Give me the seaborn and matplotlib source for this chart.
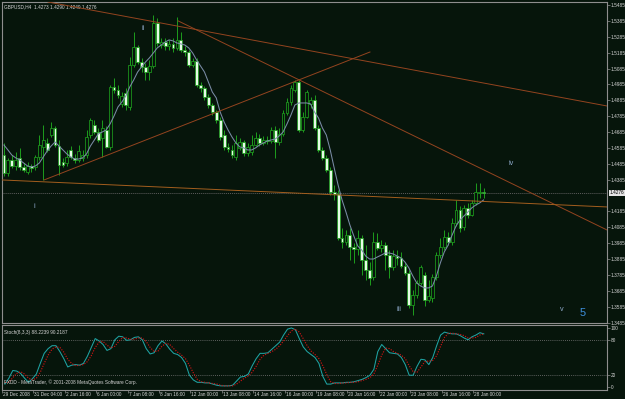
import numpy as np
import pandas as pd
import matplotlib
matplotlib.use("Agg")
import matplotlib.pyplot as plt
import matplotlib.transforms as mtransforms
import seaborn as sns

plt.rcParams["font.family"] = ["Liberation Sans", "DejaVu Sans"]

# ---------------- data ----------------
symbol_title = "GBPUSD,H4  1.4273 1.4290 1.4249 1.4276"
stoch_title = "Stoch(8,3,3) 88.2239 90.2187"
copyright_text = "FXDD - MetaTrader, \u00a9 2001-2008 MetaQuotes Software Corp."
bid_text = "1.4276"

opens = [
    1.4540, 1.4427, 1.4509, 1.4471, 1.4522, 1.4465, 1.4433, 1.4471, 1.4465, 1.4528,
    1.4591, 1.4616, 1.4666, 1.4711, 1.4597, 1.4496, 1.4490, 1.4572, 1.4522, 1.4509,
    1.4522, 1.4540, 1.4666, 1.4729, 1.4685, 1.4648, 1.4698, 1.4591, 1.4969, 1.4950,
    1.4862, 1.4931, 1.4843, 1.5107, 1.5221, 1.5126, 1.5095, 1.5063, 1.5101, 1.5372,
    1.5233, 1.5252, 1.5227, 1.5240, 1.5215, 1.5265, 1.5202, 1.5189, 1.5107, 1.5133,
    1.4981, 1.4963, 1.4906, 1.4855, 1.4811, 1.4761, 1.4666, 1.4591, 1.4572, 1.4528,
    1.4585, 1.4622, 1.4553, 1.4559, 1.4603, 1.4648, 1.4616, 1.4635, 1.4629, 1.4698,
    1.4622, 1.4673, 1.4805, 1.4874, 1.4950, 1.5000, 1.4698, 1.4780, 1.4862, 1.4887,
    1.4711, 1.4572, 1.4522, 1.4446, 1.4307, 1.4295, 1.4018, 1.3992, 1.4036, 1.3961,
    1.3948, 1.4018, 1.3879, 1.3816, 1.3772, 1.3992, 1.3955, 1.3973, 1.3910, 1.3835,
    1.3904, 1.3892, 1.3841, 1.3797, 1.3595, 1.3658, 1.3734, 1.3784, 1.3627, 1.3640,
    1.3772, 1.3910, 1.3961, 1.4024, 1.3992, 1.4112, 1.4194, 1.4087, 1.4207, 1.4162,
    1.4238, 1.4301, 1.4307]
highs = [
    1.4616, 1.4522, 1.4540, 1.4559, 1.4585, 1.4490, 1.4496, 1.4484, 1.4540, 1.4666,
    1.4729, 1.4648, 1.4748, 1.4723, 1.4635, 1.4522, 1.4572, 1.4597, 1.4547, 1.4603,
    1.4572, 1.4698, 1.4774, 1.4761, 1.4711, 1.4761, 1.4723, 1.4981, 1.5026, 1.4981,
    1.4937, 1.4963, 1.5158, 1.5315, 1.5233, 1.5152, 1.5120, 1.5139, 1.5422, 1.5404,
    1.5278, 1.5278, 1.5265, 1.5278, 1.5410, 1.5315, 1.5227, 1.5202, 1.5152, 1.5152,
    1.5000, 1.4975, 1.4925, 1.4868, 1.4824, 1.4780, 1.4698, 1.4616, 1.4603, 1.4666,
    1.4648, 1.4635, 1.4616, 1.4666, 1.4685, 1.4673, 1.4660, 1.4660, 1.4717, 1.4723,
    1.4711, 1.4824, 1.4900, 1.4981, 1.5013, 1.5013, 1.4811, 1.4950, 1.4906, 1.4918,
    1.4729, 1.4591, 1.4540, 1.4465, 1.4351, 1.4320, 1.4081, 1.4068, 1.4081, 1.3986,
    1.4068, 1.4036, 1.3973, 1.3866, 1.4055, 1.4049, 1.4005, 1.3992, 1.3942, 1.3942,
    1.3942, 1.3929, 1.3866, 1.3816, 1.3690, 1.3753, 1.3847, 1.3803, 1.3753, 1.3791,
    1.3929, 1.4018, 1.4068, 1.4055, 1.4144, 1.4257, 1.4219, 1.4225, 1.4238, 1.4257,
    1.4364, 1.4364, 1.4333]
lows = [
    1.4408, 1.4408, 1.4459, 1.4446, 1.4446, 1.4433, 1.4421, 1.4433, 1.4446, 1.4509,
    1.4383, 1.4559, 1.4654, 1.4591, 1.4414, 1.4465, 1.4471, 1.4515, 1.4490, 1.4496,
    1.4503, 1.4522, 1.4648, 1.4673, 1.4622, 1.4528, 1.4585, 1.4572, 1.4931, 1.4900,
    1.4843, 1.4824, 1.4824, 1.5095, 1.5114, 1.5063, 1.5013, 1.5013, 1.5089, 1.5227,
    1.5215, 1.5202, 1.5202, 1.5189, 1.5202, 1.5189, 1.5164, 1.5095, 1.5095, 1.4969,
    1.4937, 1.4887, 1.4837, 1.4792, 1.4742, 1.4635, 1.4572, 1.4559, 1.4522, 1.4509,
    1.4572, 1.4534, 1.4534, 1.4540, 1.4597, 1.4597, 1.4603, 1.4610, 1.4616, 1.4522,
    1.4603, 1.4660, 1.4792, 1.4855, 1.4937, 1.4685, 1.4685, 1.4774, 1.4837, 1.4698,
    1.4559, 1.4509, 1.4433, 1.4288, 1.4257, 1.4005, 1.3955, 1.3973, 1.3879, 1.3860,
    1.3910, 1.3784, 1.3753, 1.3721, 1.3753, 1.3942, 1.3929, 1.3816, 1.3766, 1.3816,
    1.3847, 1.3829, 1.3784, 1.3577, 1.3532, 1.3640, 1.3721, 1.3589, 1.3614, 1.3614,
    1.3753, 1.3892, 1.3942, 1.3973, 1.3973, 1.4093, 1.4055, 1.4068, 1.4144, 1.4156,
    1.4225, 1.4270, 1.4270]
closes = [
    1.4427, 1.4509, 1.4471, 1.4509, 1.4465, 1.4446, 1.4471, 1.4459, 1.4528, 1.4603,
    1.4635, 1.4572, 1.4711, 1.4603, 1.4477, 1.4477, 1.4528, 1.4528, 1.4509, 1.4566,
    1.4540, 1.4654, 1.4761, 1.4685, 1.4635, 1.4711, 1.4591, 1.4969, 1.4950, 1.4918,
    1.4912, 1.4855, 1.5107, 1.5221, 1.5126, 1.5095, 1.5063, 1.5101, 1.5372, 1.5246,
    1.5252, 1.5227, 1.5240, 1.5215, 1.5265, 1.5202, 1.5189, 1.5107, 1.5133, 1.4981,
    1.4963, 1.4906, 1.4855, 1.4811, 1.4761, 1.4654, 1.4591, 1.4578, 1.4540, 1.4616,
    1.4622, 1.4553, 1.4591, 1.4603, 1.4648, 1.4616, 1.4635, 1.4629, 1.4698, 1.4622,
    1.4673, 1.4805, 1.4874, 1.4963, 1.5000, 1.4698, 1.4780, 1.4937, 1.4887, 1.4711,
    1.4572, 1.4522, 1.4446, 1.4307, 1.4295, 1.4018, 1.3992, 1.4036, 1.3961, 1.3948,
    1.4018, 1.3879, 1.3816, 1.3766, 1.3992, 1.3955, 1.3973, 1.3910, 1.3835, 1.3904,
    1.3892, 1.3841, 1.3797, 1.3595, 1.3658, 1.3734, 1.3835, 1.3627, 1.3652, 1.3772,
    1.3910, 1.3961, 1.4024, 1.3992, 1.4112, 1.4194, 1.4081, 1.4207, 1.4162, 1.4238,
    1.4307, 1.4307, 1.4301]
ma_values = [
    1.4603, 1.4572, 1.4540, 1.4522, 1.4509, 1.4490, 1.4471, 1.4465, 1.4471, 1.4490,
    1.4528, 1.4566, 1.4597, 1.4622, 1.4597, 1.4572, 1.4547, 1.4528, 1.4515, 1.4515,
    1.4522, 1.4547, 1.4597, 1.4635, 1.4673, 1.4685, 1.4698, 1.4736, 1.4786, 1.4843,
    1.4874, 1.4912, 1.4969, 1.5013, 1.5063, 1.5095, 1.5126, 1.5152, 1.5183, 1.5215,
    1.5233, 1.5252, 1.5265, 1.5259, 1.5246, 1.5240, 1.5233, 1.5215, 1.5183, 1.5139,
    1.5101, 1.5063, 1.5000, 1.4937, 1.4900, 1.4811, 1.4748, 1.4698, 1.4654, 1.4616,
    1.4591, 1.4585, 1.4572, 1.4572, 1.4585, 1.4603, 1.4616, 1.4629, 1.4635, 1.4641,
    1.4660, 1.4685, 1.4736, 1.4792, 1.4855, 1.4868, 1.4868, 1.4868, 1.4862, 1.4811,
    1.4774, 1.4711, 1.4666, 1.4572, 1.4459, 1.4351, 1.4257, 1.4181, 1.4099, 1.4030,
    1.3967, 1.3942, 1.3904, 1.3885, 1.3885, 1.3898, 1.3910, 1.3923, 1.3923, 1.3917,
    1.3904, 1.3892, 1.3866, 1.3829, 1.3778, 1.3734, 1.3715, 1.3703, 1.3703, 1.3715,
    1.3778, 1.3860, 1.3929, 1.3973, 1.4036, 1.4093, 1.4131, 1.4156, 1.4181, 1.4207,
    1.4225, 1.4238, 1.4257]
stoch_main = [
    5, 15, 28, 27, 23, 15, 8, 14, 22, 40,
    57, 65, 70, 70, 60, 48, 34, 37, 38, 37,
    40, 52, 67, 82, 78, 72, 62, 65, 80, 86,
    85, 79, 80, 84, 85, 80, 65, 56, 58, 70,
    78, 73, 64, 57, 55, 50, 40, 20, 12, 8,
    8, 7, 7, 5, 3, 2, 2, 2, 3, 10,
    17, 18, 22, 36, 48, 57, 57, 58, 64, 70,
    76, 88, 98, 100, 97, 82, 68, 60, 55, 50,
    40, 18, 5, 5, 7, 7, 7, 8, 8, 9,
    11, 13, 16, 20, 30, 60, 72, 65, 58, 57,
    56, 50, 38, 20, 20, 35, 47, 46, 38, 50,
    70, 88, 93, 91, 90, 90, 87, 83, 80, 85,
    88, 92, 90]
stoch_signal = [
    8, 8, 16, 23, 26, 22, 15, 12, 15, 25,
    40, 54, 64, 68, 67, 59, 47, 40, 36, 37,
    38, 43, 53, 67, 76, 77, 71, 66, 69, 77,
    84, 83, 81, 81, 83, 83, 77, 67, 60, 61,
    69, 74, 72, 65, 59, 54, 48, 37, 24, 13,
    9, 8, 7, 6, 5, 3, 2, 2, 2, 5,
    10, 15, 19, 25, 35, 47, 54, 57, 60, 64,
    70, 78, 87, 95, 98, 93, 82, 70, 61, 55,
    48, 36, 21, 9, 6, 6, 7, 7, 8, 8,
    9, 11, 13, 16, 22, 37, 54, 66, 65, 60,
    57, 54, 48, 36, 26, 25, 34, 43, 44, 45,
    53, 69, 84, 91, 91, 90, 89, 87, 83, 83,
    84, 88, 90]

time_labels = ["29 Dec 2008", "31 Dec 04:00", "2 Jan 16:00", "6 Jan 00:00",
               "7 Jan 08:00", "8 Jan 16:00", "12 Jan 00:00", "13 Jan 08:00",
               "14 Jan 16:00", "16 Jan 00:00", "19 Jan 08:00", "20 Jan 16:00",
               "22 Jan 00:00", "23 Jan 08:00", "26 Jan 16:00", "28 Jan 00:00"]
time_label_bars = [0, 8, 16, 24, 32, 40, 48, 56, 64, 72, 80, 88, 96, 104, 112, 120]

price_ticks = [1.3485, 1.3585, 1.3685, 1.3785, 1.3885, 1.3985, 1.4085, 1.4185,
               1.4385, 1.4485, 1.4585, 1.4685, 1.4785, 1.4885, 1.4985, 1.5085,
               1.5185, 1.5285, 1.5385, 1.5485]
stoch_ticks = [0, 20, 80, 100]

# Elliott wave labels (bar index, price)
wave_text = ["i", "ii", "iii", "iv", "v"]
wave_bar = [7.6, 35.4, 100.5, 129.0, 142.0]
wave_price = [1.4213, 1.5334, 1.3570, 1.4484, 1.3570]
big_label = "5"
big_bar = 147.3
big_price = 1.3545

# trend lines: start bar/price, end bar/price
trend_x0 = [11.2, 44.3, 10.2, -0.5]
trend_p0 = [1.5504, 1.5385, 1.4383, 1.4383]
trend_x1 = [153.4, 153.4, 93.1, 153.4]
trend_p1 = [1.4849, 1.4068, 1.5189, 1.4213]
trend_colors = ["#93441f", "#93441f", "#93441f", "#a35e1e"]

# ---------------- styling ----------------
BG = "#06150b"
GREEN = "#1d9e1d"
PALE = "#e6fbe6"
FRAME = "#8e8e8e"
TXT = "#d6d6d6"
FS = 3.4

W, H = 625, 399
fig = plt.figure(figsize=(W / 100, H / 100), dpi=100, facecolor=BG)
ax = fig.add_axes([2 / W, 1 - 323 / H, 605 / W, 321 / H], facecolor=BG)
ax2 = fig.add_axes([2 / W, 1 - 390 / H, 605 / W, 65 / H], facecolor=BG)

df = pd.DataFrame({"bar": np.arange(len(closes)), "open": opens, "high": highs,
                   "low": lows, "close": closes, "ma": ma_values,
                   "main": stoch_main, "signal": stoch_signal})
bull = df["close"] >= df["open"]
body_lo = np.minimum(df["open"], df["close"])
body_h = np.maximum(np.abs(df["close"] - df["open"]), 0.00025)

# wicks
ax.vlines(df["bar"], df["low"], df["high"], color=GREEN, lw=0.7, zorder=2)
# bodies
ax.bar(df["bar"][bull], body_h[bull], bottom=body_lo[bull], width=0.72,
       color=BG, edgecolor=GREEN, linewidth=0.55, zorder=3)
ax.bar(df["bar"][~bull], body_h[~bull], bottom=body_lo[~bull], width=0.72,
       color=PALE, edgecolor=GREEN, linewidth=0.55, zorder=3)

# moving average
sns.lineplot(data=df, x="bar", y="ma", ax=ax, color="#7a8ca6", linewidth=0.75,
             legend=False, zorder=4)

# trend lines
for x0, p0, x1, p1, c in zip(trend_x0, trend_p0, trend_x1, trend_p1, trend_colors):
    ax.plot([x0, x1], [p0, p1], color=c, lw=0.7, zorder=5)

# bid line
last_close = closes[-1]
ax.axhline(last_close, color="#5c5c5c", lw=0.7, ls=(0, (1, 1)), zorder=1)

# wave labels
for t, b, p in zip(wave_text, wave_bar, wave_price):
    ax.text(b, p, t, color="#8eaacb", fontsize=5.2, ha="center", va="center",
            zorder=6)
ax.text(big_bar, big_price, big_label, color="#3d8fdc", fontsize=8,
        ha="center", va="center", zorder=6)

ax.set_xlim(-0.5, 153.4)
ax.set_ylim(1.3482, 1.5504)
ax.set_xlabel("")
ax.set_ylabel("")
ax.set_xticks([])
ax.yaxis.tick_right()
ax.set_yticks(price_ticks)
ax.set_yticklabels([f"{v:.4f}" for v in price_ticks])
ax.tick_params(axis="y", length=2, width=0.5, colors=FRAME, labelcolor=TXT,
               labelsize=FS, pad=0.8)
for s in ax.spines.values():
    s.set_color(FRAME)
    s.set_linewidth(0.8)

ax.text(0.004, 0.993, symbol_title, transform=ax.transAxes, color=TXT,
        fontsize=FS, ha="left", va="top")
ax.annotate(bid_text, xy=(1.005, last_close), xycoords=("axes fraction", "data"),
            color="#000000", fontsize=FS, ha="left", va="center",
            bbox=dict(boxstyle="square,pad=0.12", fc="#e4e4e4", ec="none"),
            annotation_clip=False)

# ---------------- stochastic panel ----------------
sns.lineplot(data=df, x="bar", y="main", ax=ax2, color="#1fa3a3", linewidth=0.75,
             legend=False)
sns.lineplot(data=df, x="bar", y="signal", ax=ax2, color="#c81414", linewidth=0.85,
             linestyle=(0, (1, 1.2)), legend=False)
for lvl in (20, 80):
    ax2.axhline(lvl, color="#7a7a7a", lw=0.6, ls=(0, (1, 1.5)), zorder=0)

ax2.set_xlim(-0.5, 153.4)
ax2.set_ylim(-5, 105)
ax2.set_xlabel("")
ax2.set_ylabel("")
ax2.yaxis.tick_right()
ax2.set_yticks(stoch_ticks)
ax2.set_yticklabels([str(v) for v in stoch_ticks])
ax2.tick_params(axis="y", length=2, width=0.5, colors=FRAME, labelcolor=TXT,
                labelsize=FS, pad=0.8)
ax2.set_xticks([b - 0.75 for b in time_label_bars])
ax2.set_xticklabels([])
ax2.tick_params(axis="x", length=2, width=0.5, colors=FRAME, direction="out")
for s in ax2.spines.values():
    s.set_color(FRAME)
    s.set_linewidth(0.8)

trans = mtransforms.blended_transform_factory(ax2.transData, fig.transFigure)
for b, t in zip(time_label_bars, time_labels):
    ax2.text(b - 0.5, 1 - 395 / H, t, transform=trans, color=TXT, fontsize=FS,
             ha="left", va="center", clip_on=False)

ax2.text(0.003, 0.93, stoch_title, transform=ax2.transAxes, color=TXT,
         fontsize=FS, ha="left", va="top")
ax2.text(0.003, 0.07, copyright_text, transform=ax2.transAxes, color=TXT,
         fontsize=FS, ha="left", va="bottom")

fig.savefig("out.png", dpi=100, facecolor=BG)
